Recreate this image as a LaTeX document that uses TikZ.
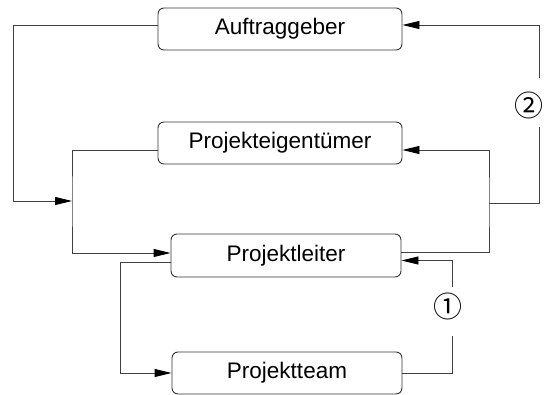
\documentclass[tikz,border=0pt]{standalone}
\usepackage{fontspec}
\setmainfont{Liberation Sans}
\newfontfamily\symfont{Noto Sans CJK JP}
\usetikzlibrary{arrows.meta}
\begin{document}
\begin{tikzpicture}[x=1pt,y=-1pt,
  box/.style={draw=black!80,line width=0.9pt,rounded corners=6pt,minimum height=42pt,inner sep=0pt,font=\fontsize{22.5}{26}\selectfont},
  conn/.style={draw=black!75,line width=0.9pt},
  arr/.style={conn,-{Triangle[length=17pt,width=8pt,black]}},
  lbl/.style={inner sep=0pt,font=\symfont\fontsize{29}{34}\selectfont}]
\useasboundingbox (0,0) rectangle (544,395);
\node[box,minimum width=244pt] (A) at (280,29) {Auftraggeber};
\node[box,minimum width=244pt] (E) at (280,143) {Projekteigentümer};
\node[box,minimum width=230pt,minimum height=43pt] (L) at (286,255.5) {Projektleiter};
\node[box,minimum width=230pt] (T) at (287,373) {Projektteam};
\coordinate (j1) at (72,201);
\coordinate (j2) at (489,203);
\coordinate (g1a) at (452,287);
\coordinate (g1b) at (452,336);
\coordinate (g2a) at (539,78);
\coordinate (g2b) at (539,127);
\node[lbl] (n1) at (448,306) {①};
\node[lbl] (n2) at (529,105) {②};
% 1
\draw[arr] ([yshift=4pt]A.west) -| (13,201) -- (j1);
% 2
\draw[arr] ([yshift=-7pt]E.west) -| (j1) |- ([yshift=2.5pt]L.west);
% 3
\draw[arr] ([yshift=-6.5pt]L.west) -- ++(-50,0) |- (T.west);
% 4
\draw[conn] (T.east) -| (g1b);
\draw[arr] (g1a) |- ([yshift=-5pt]L.east);
% 5
\draw[arr] ([yshift=3.5pt]L.east) -| (j2) |- ([yshift=-7pt]E.east);
% 6
\draw[conn] (j2) -| (g2b);
\draw[arr] (g2a) |- ([yshift=4pt]A.east);
\end{tikzpicture}
\end{document}
